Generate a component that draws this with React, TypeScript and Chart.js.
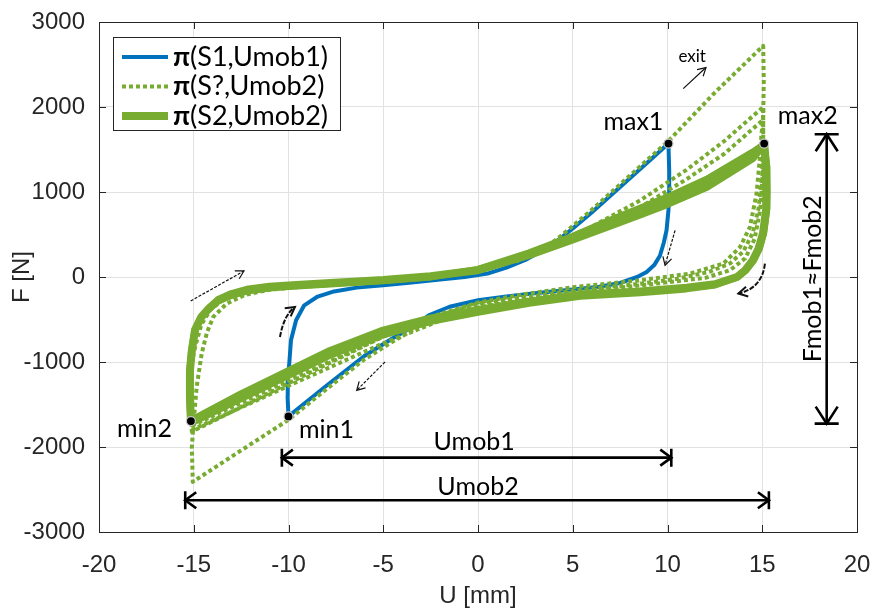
import React, { useEffect, useRef } from "react";
import { Chart, registerables } from "chart.js";

Chart.register(...registerables);

// ---------- axes ----------
const xTickValues = [-20, -15, -10, -5, 0, 5, 10, 15, 20];
const yTickValues = [-3000, -2000, -1000, 0, 1000, 2000, 3000];
const xTitle = "U [mm]";
const yTitle = "F [N]";

// ---------- series: π(S1,Umob1) (blue) ----------
const s1U = [-10.0, -10.05, -10.04, -9.96, -9.87, -9.6, -9.17, -8.46, -7.6, -6.4, -5.0, -3.5, -2.0, -0.7, 0.5, 1.5, 2.5, 3.3, 4.2, 5.0, 6.0, 7.0, 8.0, 9.0, 10.05,
  10.09, 10.09, 10.05, 9.95, 9.8, 9.6, 9.3, 8.9, 8.4, 7.5, 6.4, 4.86, 3.0, 1.5, 0.0, -1.5, -2.6, -3.4, -4.5, -6.0, -8.0, -10.0];
const s1F = [-1640, -1400, -1215, -1019, -745, -509, -333, -230, -170, -125, -98, -65, -30, 0, 40, 110, 200, 300, 430, 570, 760, 960, 1160, 1360, 1570,
  1250, 1000, 785, 550, 400, 250, 140, 60, 0, -70, -115, -149, -190, -230, -274, -350, -450, -580, -720, -930, -1280, -1640];

// ---------- series: π(S2,Umob2) (thick green), two stabilised cycles ----------
const s2U = [-15.15, -15.2, -15.2, -15.1, -14.93, -14.6, -14.2, -13.7, -13.0, -12.2, -11.0, -10.0, -7.8, -5.0, -2.5, 0.0, 2.7, 5.0, 7.1, 8.55, 10.0, 12.07, 14.5, 15.1,
  15.2, 15.22, 15.2, 15.04, 14.8, 14.5, 14.1, 13.67, 12.5, 11.0, 8.55, 5.4, 2.7, 0.0, -2.53, -5.0, -7.8, -10.1, -12.5, -15.15];
const s2F = [-1695, -1400, -1100, -862, -620, -470, -370, -270, -200, -150, -115, -100, -70, -35, 10, 80, 260, 440, 615, 735, 860, 1060, 1400, 1570,
  1300, 1000, 800, 514, 330, 196, 80, 0, -85, -125, -170, -210, -290, -390, -490, -630, -870, -1120, -1380, -1695];
const s2bU = [-15.15, -15.22, -15.22, -15.12, -14.95, -14.65, -14.25, -13.75, -13.0, -12.2, -11.0, -10.0, -7.8, -5.0, -2.5, 0.0, 2.7, 5.0, 7.1, 8.55, 10.0, 12.07, 14.5, 15.1,
  15.24, 15.26, 15.24, 15.08, 14.85, 14.55, 14.15, 13.7, 12.5, 11.0, 8.55, 5.4, 2.7, 0.0, -2.53, -5.0, -7.8, -10.1, -12.5, -15.15];
const s2bF = [-1720, -1420, -1120, -880, -640, -490, -385, -285, -215, -165, -130, -112, -82, -45, 0, 90, 285, 480, 680, 810, 940, 1150, 1470, 1560,
  1300, 1000, 800, 520, 335, 200, 85, 0, -95, -140, -185, -228, -310, -415, -525, -680, -920, -1170, -1430, -1720];

// ---------- series: π(S?,Umob2) (dashed green), two recorded runs ----------
const sqU1 = [2.5, 0.0, -2.6, -3.4, -4.5, -6.0, -8.0, -10.0, -12.5, -15.05, -15.1, -15.0, -14.85, -14.58, -14.3, -13.97, -13.26, -12.3, -11.0, -9.0, -5.0, 0.0, 2.7, 5.0, 8.55, 11.0, 13.0, 15.05,
  15.05, 15.0, 14.8, 14.5, 14.0, 13.3, 12.2, 10.5, 8.55, 5.0, 2.5, 0.0, -2.53, -5.0, -10.0, -15.1,
  -15.15, -15.1, -14.9, -14.6, -14.1, -13.4, -12.3, -10.0, -5.0, 0.0, 5.0, 8.55, 11.0, 13.0, 15.05,
  15.05, 14.9, 14.6, 14.1, 13.3, 12.0, 8.55, 5.0, 0.0, -5.0, -10.0, -15.1];
const sqF1 = [-230, -310, -490, -620, -760, -970, -1320, -1680, -2040, -2410, -2000, -1690, -1300, -900, -650, -470, -313, -210, -150, -110, -50, 70, 250, 470, 900, 1260, 1600, 2000,
  1600, 1200, 800, 520, 300, 160, 60, -20, -80, -160, -240, -340, -560, -780, -1280, -1800,
  -1400, -1000, -800, -560, -380, -260, -180, -120, -45, 75, 460, 820, 1150, 1450, 1850,
  1300, 800, 450, 220, 80, -10, -100, -180, -360, -700, -1220, -1750];
const sqU2 = [2.0, 3.3, 4.2, 5.0, 6.0, 7.0, 8.0, 9.0, 10.05, 12.5, 15.05, 15.08, 15.05, 14.95, 14.88, 14.7, 14.35, 13.83, 12.95, 11.19, 8.55, 5.0, 2.5, 0.0, -2.5, -5.0, -10.0, -15.1, -15.15];
const sqF2 = [180, 320, 450, 600, 790, 990, 1190, 1390, 1600, 2170, 2720, 2300, 1900, 1650, 1412, 981, 588, 353, 158, 40, -39, -120, -200, -300, -470, -700, -1250, -1820, -1300];

// ---------- extrema markers ----------
const extremaU = [-10.0, 10.05, -15.15, 15.1];
const extremaF = [-1640, 1570, -1695, 1570];

// ---------- annotation texts ----------
const noteTexts = ["max1", "max2", "min1", "min2", "Umob1", "Umob2", "exit"];
const noteU = [8.2, 17.4, -8.0, -17.6, -0.2, 0.0, 11.3];
const noteF = [1830, 1900, -1805, -1792, -1935, -2470, 2590];
const noteSize = [25, 25, 25, 25, 25, 25, 17];

const spanText = "Fmob1≈Fmob2";
const spanTextU = 17.7;
const spanTextF = -20;

// double-headed dimension arrows (U1,U2,F) and vertical one (U,F1,F2)
const dimArrowU1 = [-10.35, -15.45];
const dimArrowU2 = [10.2, 15.35];
const dimArrowF = [-2125, -2627];
const vArrowU = 18.4;
const vArrowF = [1680, -1725];

// small direction arrows: [u0,F0,u1,F1]
const thinArrows = [
  [-15.16, -282, -12.35, 71],
  [-4.91, -1000, -6.4, -1333],
  [10.4, 549, 9.87, 138],
  [10.83, 2216, 12.03, 2464],
];
// curved arrows: [u0,F0,uc,Fc,u1,F1]
const curvedArrows = [
  [-10.45, -706, -10.25, -450, -9.66, -353],
  [15.14, 158, 15.0, -130, 13.74, -195],
];

const BLUE = "#0072BD";
const GREEN = "#77AC30";
const AXIS = "#262626";
const ANNOT_FONT = "Lato, 'Open Sans', sans-serif";
const TICK_FONT = "'Liberation Sans', Arial, sans-serif";

const zip = (us: number[], fs: number[]) => us.map((u, i) => ({ x: u, y: fs[i] }));

function openHead(ctx: CanvasRenderingContext2D, x: number, y: number, ang: number, len: number, half: number) {
  const bx = x - Math.cos(ang) * len;
  const by = y - Math.sin(ang) * len;
  const nx = -Math.sin(ang) * half;
  const ny = Math.cos(ang) * half;
  ctx.beginPath();
  ctx.moveTo(bx + nx, by + ny);
  ctx.lineTo(x, y);
  ctx.lineTo(bx - nx, by - ny);
  ctx.stroke();
}

const annotPlugin = {
  id: "annot",
  afterDatasetsDraw(chart: any) {
    const ctx: CanvasRenderingContext2D = chart.ctx;
    const xs = chart.scales.x;
    const ys = chart.scales.y;
    const X = (u: number) => xs.getPixelForValue(u);
    const Y = (f: number) => ys.getPixelForValue(f);
    const ca = chart.chartArea;
    ctx.save();

    // box + inner ticks
    ctx.strokeStyle = AXIS;
    ctx.lineWidth = 1;
    ctx.strokeRect(Math.round(ca.left) + 0.5, Math.round(ca.top) + 0.5, Math.round(ca.right - ca.left), Math.round(ca.bottom - ca.top));
    ctx.beginPath();
    xTickValues.forEach((v) => {
      const px = Math.round(X(v)) + 0.5;
      ctx.moveTo(px, ca.bottom); ctx.lineTo(px, ca.bottom - 7);
      ctx.moveTo(px, ca.top); ctx.lineTo(px, ca.top + 7);
    });
    yTickValues.forEach((v) => {
      const py = Math.round(Y(v)) + 0.5;
      ctx.moveTo(ca.left, py); ctx.lineTo(ca.left + 7, py);
      ctx.moveTo(ca.right, py); ctx.lineTo(ca.right - 7, py);
    });
    ctx.stroke();

    // thin direction arrows
    ctx.strokeStyle = "#111";
    ctx.lineWidth = 1.2;
    thinArrows.forEach((a, i) => {
      const x0 = X(a[0]), y0 = Y(a[1]), x1 = X(a[2]), y1 = Y(a[3]);
      ctx.setLineDash(i === 3 ? [] : [3, 1.5]);
      ctx.beginPath(); ctx.moveTo(x0, y0); ctx.lineTo(x1, y1); ctx.stroke();
      ctx.setLineDash([]);
      openHead(ctx, x1, y1, Math.atan2(y1 - y0, x1 - x0), 8, 4.5);
    });
    // curved arrows
    ctx.lineWidth = 2;
    curvedArrows.forEach((a) => {
      const x0 = X(a[0]), y0 = Y(a[1]), xc = X(a[2]), yc = Y(a[3]), x1 = X(a[4]), y1 = Y(a[5]);
      ctx.setLineDash([5, 1.5]);
      ctx.beginPath(); ctx.moveTo(x0, y0); ctx.quadraticCurveTo(xc, yc, x1, y1); ctx.stroke();
      ctx.setLineDash([]);
      openHead(ctx, x1, y1, Math.atan2(y1 - yc, x1 - xc), 9, 5);
    });

    // dimension arrows
    ctx.strokeStyle = "#000";
    ctx.lineWidth = 2.6;
    dimArrowF.forEach((f, i) => {
      const xa = X(dimArrowU1[i]), xb = X(dimArrowU2[i]), y = Y(f);
      ctx.beginPath(); ctx.moveTo(xa, y); ctx.lineTo(xb, y); ctx.stroke();
      ctx.beginPath(); ctx.moveTo(xa, y - 9); ctx.lineTo(xa, y + 9); ctx.moveTo(xb, y - 9); ctx.lineTo(xb, y + 9); ctx.stroke();
      openHead(ctx, xa, y, Math.PI, 11, 8);
      openHead(ctx, xb, y, 0, 11, 8);
    });
    {
      const x = X(vArrowU), ya = Y(vArrowF[0]), yb = Y(vArrowF[1]);
      ctx.beginPath(); ctx.moveTo(x, ya); ctx.lineTo(x, yb); ctx.stroke();
      ctx.beginPath(); ctx.moveTo(x - 12, ya); ctx.lineTo(x + 12, ya); ctx.moveTo(x - 12, yb); ctx.lineTo(x + 12, yb); ctx.stroke();
      openHead(ctx, x, ya, -Math.PI / 2, 17, 11);
      openHead(ctx, x, yb, Math.PI / 2, 17, 11);
    }

    // texts
    ctx.fillStyle = "#000";
    ctx.textAlign = "center";
    ctx.textBaseline = "middle";
    noteTexts.forEach((t, i) => {
      ctx.font = `${noteSize[i]}px ${ANNOT_FONT}`;
      ctx.fillText(t, X(noteU[i]), Y(noteF[i]));
    });
    ctx.save();
    ctx.translate(X(spanTextU), Y(spanTextF));
    ctx.rotate(-Math.PI / 2);
    ctx.font = `25px ${ANNOT_FONT}`;
    ctx.fillText(spanText, 0, 0);
    ctx.restore();

    // axis titles
    ctx.fillStyle = AXIS;
    ctx.font = `24px ${TICK_FONT}`;
    ctx.fillText(xTitle, (ca.left + ca.right) / 2, 596);
    ctx.save();
    ctx.translate(22, (ca.top + ca.bottom) / 2);
    ctx.rotate(-Math.PI / 2);
    ctx.fillText(yTitle, 0, 0);
    ctx.restore();

    ctx.restore();
  },
  afterDraw(chart: any) {
    const ctx: CanvasRenderingContext2D = chart.ctx;
    const ds = chart.data.datasets.slice(0, 3);
    ctx.save();
    const bx = 113, by = 37, bw = 227, bh = 93;
    ctx.fillStyle = "#fff";
    ctx.fillRect(bx, by, bw, bh);
    ctx.strokeStyle = AXIS;
    ctx.lineWidth = 1;
    ctx.strokeRect(bx + 0.5, by + 0.5, bw, bh);
    ds.forEach((d: any, i: number) => {
      const y = 57 + i * 29.5;
      ctx.strokeStyle = d.borderColor;
      ctx.lineWidth = d.borderWidth;
      ctx.setLineDash(d.borderDash || []);
      ctx.beginPath(); ctx.moveTo(122, y); ctx.lineTo(168, y); ctx.stroke();
      ctx.setLineDash([]);
      ctx.fillStyle = "#000";
      ctx.textAlign = "left";
      ctx.textBaseline = "middle";
      const label: string = d.label;
      ctx.font = `bold 27px ${ANNOT_FONT}`;
      ctx.fillText(label[0], 173, y);
      const w = ctx.measureText(label[0]).width;
      ctx.font = `27px ${ANNOT_FONT}`;
      ctx.fillText(label.slice(1), 173 + w, y);
    });
    ctx.restore();
  },
};

export default function App() {
  const ref = useRef<HTMLCanvasElement>(null);
  useEffect(() => {
    const canvas = ref.current!;
    const lineBase = { showLine: true, pointRadius: 0, pointHoverRadius: 0, borderJoinStyle: "round" as const, tension: 0 };
    const chart = new Chart(canvas, {
      type: "scatter",
      data: {
        datasets: [
          { ...lineBase, label: "π(S1,Umob1)", data: zip(s1U, s1F), borderColor: BLUE, backgroundColor: BLUE, borderWidth: 4, order: 5 },
          { ...lineBase, label: "π(S?,Umob2)", data: zip(sqU1, sqF1), borderColor: GREEN, backgroundColor: GREEN, borderWidth: 4, borderDash: [4, 3], order: 4 },
          { ...lineBase, label: "π(S2,Umob2)", data: zip(s2U, s2F), borderColor: GREEN, backgroundColor: GREEN, borderWidth: 8, order: 1 },
          { ...lineBase, label: "π(S?,Umob2) run 2", data: zip(sqU2, sqF2), borderColor: GREEN, backgroundColor: GREEN, borderWidth: 4, borderDash: [4, 3], order: 3 },
          { ...lineBase, label: "π(S2,Umob2) cycle 2", data: zip(s2bU, s2bF), borderColor: GREEN, backgroundColor: GREEN, borderWidth: 7, order: 2 },
          { label: "extrema", data: zip(extremaU, extremaF), showLine: false, pointRadius: 4.5, pointBackgroundColor: "#000", pointBorderColor: "#c8c8c8", pointBorderWidth: 1.2, order: 0 } as any,
        ],
      },
      options: {
        animation: false,
        responsive: true,
        maintainAspectRatio: false,
        devicePixelRatio: 1,
        layout: { autoPadding: false, padding: { left: 0, right: 18, top: 22, bottom: 0 } },
        plugins: { legend: { display: false }, tooltip: { enabled: false } },
        events: [],
        scales: {
          x: {
            type: "linear",
            min: -20,
            max: 20,
            afterBuildTicks: (s: any) => { s.ticks = xTickValues.map((v) => ({ value: v })); },
            afterFit: (s: any) => { s.height = 81; s.paddingLeft = 0; s.paddingRight = 0; },
            ticks: { color: AXIS, font: { family: TICK_FONT, size: 24 }, padding: 19, maxRotation: 0, autoSkip: false, callback: (v: any) => String(v) },
            grid: { color: "#e2e2e2", lineWidth: 1, drawTicks: false },
            border: { display: false },
          },
          y: {
            type: "linear",
            min: -3000,
            max: 3000,
            afterBuildTicks: (s: any) => { s.ticks = yTickValues.map((v) => ({ value: v })); },
            afterFit: (s: any) => { s.width = 99; s.paddingTop = 0; s.paddingBottom = 0; },
            ticks: { color: AXIS, font: { family: TICK_FONT, size: 24 }, padding: 14, autoSkip: false, callback: (v: any) => String(v) },
            grid: { color: "#e2e2e2", lineWidth: 1, drawTicks: false },
            border: { display: false },
          },
        },
      },
      plugins: [annotPlugin],
    } as any);
    return () => chart.destroy();
  }, []);
  return (
    <div style={{ position: "absolute", left: 0, top: 0, width: 875, height: 613, background: "#fff" }}>
      <canvas ref={ref} />
    </div>
  );
}
